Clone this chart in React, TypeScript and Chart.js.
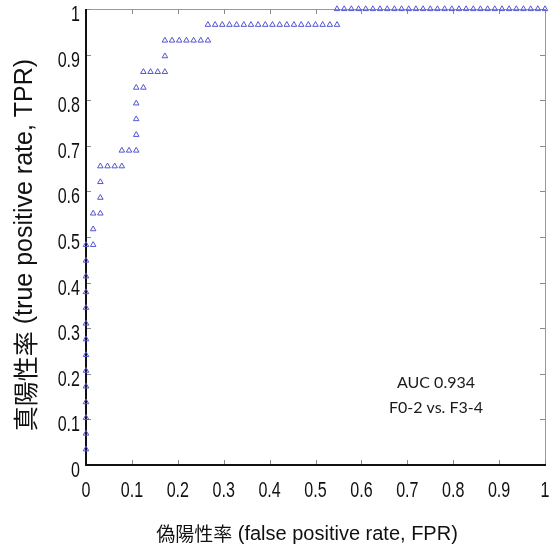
import React, { useEffect, useRef } from "react";
import { Chart, registerables } from "chart.js";

Chart.register(...registerables);

// ROC curve points (false positive rate, true positive rate)
const fprValues: number[] = [
  0, 0, 0, 0, 0, 0, 0, 0, 0, 0, 0, 0, 0, 0,
  0.0156, 0.0156, 0.0156,
  0.0313, 0.0313, 0.0313, 0.0313,
  0.0469, 0.0625, 0.0781,
  0.0781, 0.0938, 0.1094,
  0.1094, 0.1094, 0.1094, 0.1094,
  0.125, 0.125,
  0.1406, 0.1563, 0.1719,
  0.1719, 0.1719,
  0.1875, 0.2031, 0.2188, 0.2344, 0.25, 0.2656,
  0.2656, 0.2813, 0.2969, 0.3125, 0.3281, 0.3438, 0.3594, 0.375, 0.3906, 0.4063,
  0.4219, 0.4375, 0.4531, 0.4688, 0.4844, 0.5, 0.5156, 0.5313, 0.5469,
  0.5469, 0.5625, 0.5781, 0.5938, 0.6094, 0.625, 0.6406, 0.6563, 0.6719, 0.6875,
  0.7031, 0.7188, 0.7344, 0.75, 0.7656, 0.7813, 0.7969, 0.8125, 0.8281, 0.8438,
  0.8594, 0.875, 0.8906, 0.9063, 0.9219, 0.9375, 0.9531, 0.9688, 0.9844, 1,
];

const tprValues: number[] = [
  0.0345, 0.069, 0.1034, 0.1379, 0.1724, 0.2069, 0.2414, 0.2759, 0.3103, 0.3448, 0.3793, 0.4138, 0.4483, 0.4828,
  0.4828, 0.5172, 0.5517,
  0.5517, 0.5862, 0.6207, 0.6552,
  0.6552, 0.6552, 0.6552,
  0.6897, 0.6897, 0.6897,
  0.7241, 0.7586, 0.7931, 0.8276,
  0.8276, 0.8621,
  0.8621, 0.8621, 0.8621,
  0.8966, 0.931,
  0.931, 0.931, 0.931, 0.931, 0.931, 0.931,
  0.9655, 0.9655, 0.9655, 0.9655, 0.9655, 0.9655, 0.9655, 0.9655, 0.9655, 0.9655,
  0.9655, 0.9655, 0.9655, 0.9655, 0.9655, 0.9655, 0.9655, 0.9655, 0.9655,
  1, 1, 1, 1, 1, 1, 1, 1, 1, 1,
  1, 1, 1, 1, 1, 1, 1, 1, 1, 1,
  1, 1, 1, 1, 1, 1, 1, 1, 1, 1,
];

const xAxisTitleCJK = "偽陽性率";
const xAxisTitleLatin = " (false positive rate, FPR)";
const yAxisTitleCJK = "真陽性率";
const yAxisTitleLatin = " (true positive rate, TPR)";
const annotationLines = ["AUC 0.934", "F0-2 vs. F3-4"];

const TICK_FONT = "22px 'Liberation Sans', Arial, sans-serif";
const LATIN_FONT = "'Liberation Sans', Arial, sans-serif";
const CJK_FONT = "'Noto Sans CJK JP', 'Noto Sans CJK SC', sans-serif";
const NARROW = 0.73;

const fmt = (v: any) => String(Math.round(Number(v) * 10) / 10);

const framePlugin = {
  id: "matlabFrame",
  beforeDatasetsDraw(chart: any) {
    const { ctx, chartArea } = chart;
    const { left, right, top, bottom } = chartArea;
    const xs = chart.scales.x;
    const ys = chart.scales.y;
    ctx.save();
    // thin grey top & right
    ctx.strokeStyle = "#9a9a9a";
    ctx.lineWidth = 1;
    ctx.beginPath();
    ctx.moveTo(left, top + 0.5);
    ctx.lineTo(right + 0.5, top + 0.5);
    ctx.lineTo(right + 0.5, bottom);
    ctx.stroke();
    // inward ticks
    ctx.strokeStyle = "#8a8a8a";
    ctx.beginPath();
    xs.ticks.forEach((t: any) => {
      const px = Math.round(xs.getPixelForValue(t.value)) + 0.5;
      ctx.moveTo(px, bottom);
      ctx.lineTo(px, bottom - 5);
      ctx.moveTo(px, top);
      ctx.lineTo(px, top + 5);
    });
    ys.ticks.forEach((t: any) => {
      const py = Math.round(ys.getPixelForValue(t.value)) + 0.5;
      ctx.moveTo(left, py);
      ctx.lineTo(left + 5, py);
      ctx.moveTo(right, py);
      ctx.lineTo(right - 5, py);
    });
    ctx.stroke();
    // thick black left & bottom
    ctx.strokeStyle = "#111";
    ctx.lineWidth = 2;
    ctx.beginPath();
    ctx.moveTo(left, top);
    ctx.lineTo(left, bottom);
    ctx.lineTo(right + 1, bottom);
    ctx.stroke();
    ctx.restore();
  },
  afterDraw(chart: any) {
    const { ctx, chartArea } = chart;
    const xs = chart.scales.x;
    const ys = chart.scales.y;
    ctx.save();
    ctx.fillStyle = "#111";
    // tick labels (narrow, MATLAB-like), positioned from the library's scales
    ctx.font = TICK_FONT;
    ctx.textBaseline = "alphabetic";
    xs.ticks.forEach((t: any) => {
      const px = xs.getPixelForValue(t.value);
      ctx.save();
      ctx.translate(px, 497);
      ctx.scale(NARROW, 1);
      ctx.textAlign = "center";
      ctx.fillText(fmt(t.value), 0, 0);
      ctx.restore();
    });
    ys.ticks.forEach((t: any) => {
      const py = ys.getPixelForValue(t.value);
      ctx.save();
      ctx.translate(chartArea.left - 6, py + 12);
      ctx.scale(NARROW, 1);
      ctx.textAlign = "right";
      ctx.fillText(fmt(t.value), 0, 0);
      ctx.restore();
    });

    ctx.textBaseline = "middle";
    const drawMixed = (cjk: string, latin: string, size: number, cjkSize: number) => {
      ctx.font = `${cjkSize}px ${CJK_FONT}`;
      const w1 = ctx.measureText(cjk).width;
      ctx.font = `${size}px ${LATIN_FONT}`;
      const w2 = ctx.measureText(latin).width;
      const total = w1 + w2;
      ctx.textAlign = "left";
      ctx.font = `${cjkSize}px ${CJK_FONT}`;
      ctx.fillText(cjk, -total / 2, 0);
      ctx.font = `${size}px ${LATIN_FONT}`;
      ctx.fillText(latin, -total / 2 + w1, 0);
    };
    ctx.save();
    ctx.translate(307, 534);
    drawMixed(xAxisTitleCJK, xAxisTitleLatin, 20, 19);
    ctx.restore();
    ctx.save();
    ctx.translate(25, 245);
    ctx.rotate(-Math.PI / 2);
    drawMixed(yAxisTitleCJK, yAxisTitleLatin, 25, 25);
    ctx.restore();
    // annotation
    ctx.textAlign = "center";
    ctx.font = `16px Lato, 'Open Sans', sans-serif`;
    ctx.fillStyle = "#1a1a1a";
    ctx.fillText(annotationLines[0], 436, 383);
    ctx.fillText(annotationLines[1], 436, 408);
    ctx.restore();
  },
};

export default function App() {
  const canvasRef = useRef<HTMLCanvasElement | null>(null);
  useEffect(() => {
    if (!canvasRef.current) return;
    const points = fprValues.map((x, i) => ({ x, y: tprValues[i] }));
    const chart = new Chart(canvasRef.current, {
      type: "scatter",
      data: {
        datasets: [
          {
            data: points,
            pointStyle: "triangle",
            pointRadius: 3.2,
            pointBorderWidth: 1,
            borderColor: "rgb(85,85,210)",
            backgroundColor: "rgba(255,255,255,0)",
            pointBackgroundColor: "rgba(255,255,255,0)",
            pointBorderColor: "rgb(85,85,210)",
            showLine: false,
            clip: false,
          } as any,
        ],
      },
      options: {
        animation: false,
        responsive: false,
        maintainAspectRatio: false,
        layout: { padding: { top: 9, right: 8, left: 0, bottom: 0 } },
        plugins: {
          legend: { display: false },
          tooltip: { enabled: false },
          title: { display: false },
        },
        scales: {
          x: {
            type: "linear",
            min: 0,
            max: 1,
            ticks: { stepSize: 0.1, display: false, callback: fmt },
            grid: { display: false, drawTicks: false },
            border: { display: false },
            afterFit: (s: any) => {
              s.height = 89;
            },
          },
          y: {
            type: "linear",
            min: 0,
            max: 1,
            ticks: { stepSize: 0.1, display: false, callback: fmt },
            grid: { display: false, drawTicks: false },
            border: { display: false },
            afterFit: (s: any) => {
              s.width = 86;
            },
          },
        },
      },
      plugins: [framePlugin],
    });
    return () => chart.destroy();
  }, []);
  return (
    <div style={{ position: "fixed", left: 0, top: 0, width: 553, height: 554, background: "#fff" }}>
      <canvas ref={canvasRef} width={553} height={554} style={{ width: 553, height: 554, display: "block" }} />
    </div>
  );
}
